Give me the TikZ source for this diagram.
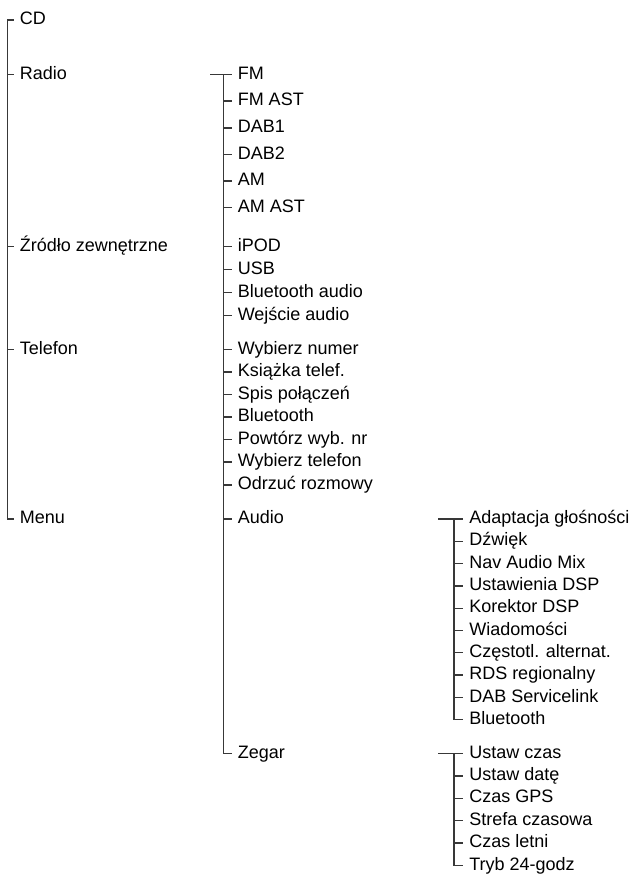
\documentclass[tikz,border=0pt]{standalone}
\usepackage{fontspec}
\setmainfont{Liberation Sans}
\usepackage{tikz}

\begin{document}
\begin{tikzpicture}[x=0.75pt,y=-0.75pt,
  item/.style={anchor=west,inner xsep=4.5pt,inner ysep=0pt,text height=10pt,text depth=3pt,font=\fontsize{13.5}{16}\selectfont},
  menuline/.style={draw=black!78,line width=1pt}]
\useasboundingbox (0,0) rectangle (639,876);
\coordinate (ta) at (7.5,0);
\coordinate (tb) at (223.5,0);
\coordinate (tc) at (454,0);
\coordinate (barb) at (210,74.5);
\coordinate (barc) at (438,519);
\coordinate (bard) at (438,753.5);

\node[item] (cd) at (13.5,20) {CD};
\node[item] (radio) at (13.5,74.5) {Radio};
\node[item] (zrodlo) at (13.5,246.5) {Źródło zewnętrzne};
\node[item] (telefon) at (13.5,349.5) {Telefon};
\node[item] (menu) at (13.5,519) {Menu};

\node[item] (fm) at (231.5,74.5) {FM};
\node[item] (fmast) at (231.5,101) {FM AST};
\node[item] (dabone) at (231.5,128) {DAB1};
\node[item] (dabtwo) at (231.5,154.5) {DAB2};
\node[item] (am) at (231.5,181) {AM};
\node[item] (amast) at (231.5,207.5) {AM AST};
\node[item] (ipod) at (231.5,246.5) {iPOD};
\node[item] (usb) at (231.5,269.5) {USB};
\node[item] (btaudio) at (231.5,292.5) {Bluetooth audio};
\node[item] (wejscie) at (231.5,315.5) {Wejście audio};
\node[item] (wybnum) at (231.5,349.5) {Wybierz numer};
\node[item] (ksiazka) at (231.5,372) {Książka telef.};
\node[item] (spis) at (231.5,394.5) {Spis połączeń};
\node[item] (btphone) at (231.5,417) {Bluetooth};
\node[item] (powtorz) at (231.5,439.5) {Powtórz wyb. nr};
\node[item] (wybtel) at (231.5,462) {Wybierz telefon};
\node[item] (odrzuc) at (231.5,485) {Odrzuć rozmowy};
\node[item] (audio) at (231.5,519) {Audio};
\node[item] (zegar) at (231.5,753.5) {Zegar};

\node[item] (adapt) at (463,519) {Adaptacja głośności};
\node[item] (dzwiek) at (463,541.3) {Dźwięk};
\node[item] (navmix) at (463,563.6) {Nav Audio Mix};
\node[item] (dspset) at (463,585.9) {Ustawienia DSP};
\node[item] (dspkor) at (463,608.2) {Korektor DSP};
\node[item] (wiad) at (463,630.5) {Wiadomości};
\node[item] (czest) at (463,652.8) {Częstotl. alternat.};
\node[item] (rds) at (463,675.1) {RDS regionalny};
\node[item] (dabsl) at (463,697.4) {DAB Servicelink};
\node[item] (btaud) at (463,719.7) {Bluetooth};

\node[item] (czas) at (463,753.5) {Ustaw czas};
\node[item] (data) at (463,775.9) {Ustaw datę};
\node[item] (gps) at (463,798.3) {Czas GPS};
\node[item] (strefa) at (463,820.7) {Strefa czasowa};
\node[item] (letni) at (463,843.1) {Czas letni};
\node[item] (tryb) at (463,865.5) {Tryb 24-godz};

\draw[menuline] (cd.west) -- (cd.west -| ta) -- (menu.west -| ta) -- (menu.west);
\draw[menuline] (radio.west -| ta) -- (radio.west);
\draw[menuline] (zrodlo.west -| ta) -- (zrodlo.west);
\draw[menuline] (telefon.west -| ta) -- (telefon.west);

\draw[menuline] (barb) -- (fm.west);
\draw[menuline] (fm.west -| tb) -- (zegar.west -| tb) -- (zegar.west);
\draw[menuline] (fmast.west -| tb) -- (fmast.west);
\draw[menuline] (dabone.west -| tb) -- (dabone.west);
\draw[menuline] (dabtwo.west -| tb) -- (dabtwo.west);
\draw[menuline] (am.west -| tb) -- (am.west);
\draw[menuline] (amast.west -| tb) -- (amast.west);
\draw[menuline] (ipod.west -| tb) -- (ipod.west);
\draw[menuline] (usb.west -| tb) -- (usb.west);
\draw[menuline] (btaudio.west -| tb) -- (btaudio.west);
\draw[menuline] (wejscie.west -| tb) -- (wejscie.west);
\draw[menuline] (wybnum.west -| tb) -- (wybnum.west);
\draw[menuline] (ksiazka.west -| tb) -- (ksiazka.west);
\draw[menuline] (spis.west -| tb) -- (spis.west);
\draw[menuline] (btphone.west -| tb) -- (btphone.west);
\draw[menuline] (powtorz.west -| tb) -- (powtorz.west);
\draw[menuline] (wybtel.west -| tb) -- (wybtel.west);
\draw[menuline] (odrzuc.west -| tb) -- (odrzuc.west);
\draw[menuline] (audio.west -| tb) -- (audio.west);

\draw[menuline] (barc) -- (adapt.west);
\draw[menuline] (adapt.west -| tc) -- (btaud.west -| tc) -- (btaud.west);
\draw[menuline] (dzwiek.west -| tc) -- (dzwiek.west);
\draw[menuline] (navmix.west -| tc) -- (navmix.west);
\draw[menuline] (dspset.west -| tc) -- (dspset.west);
\draw[menuline] (dspkor.west -| tc) -- (dspkor.west);
\draw[menuline] (wiad.west -| tc) -- (wiad.west);
\draw[menuline] (czest.west -| tc) -- (czest.west);
\draw[menuline] (rds.west -| tc) -- (rds.west);
\draw[menuline] (dabsl.west -| tc) -- (dabsl.west);

\draw[menuline] (bard) -- (czas.west);
\draw[menuline] (czas.west -| tc) -- (tryb.west -| tc) -- (tryb.west);
\draw[menuline] (data.west -| tc) -- (data.west);
\draw[menuline] (gps.west -| tc) -- (gps.west);
\draw[menuline] (strefa.west -| tc) -- (strefa.west);
\draw[menuline] (letni.west -| tc) -- (letni.west);
\end{tikzpicture}
\end{document}
